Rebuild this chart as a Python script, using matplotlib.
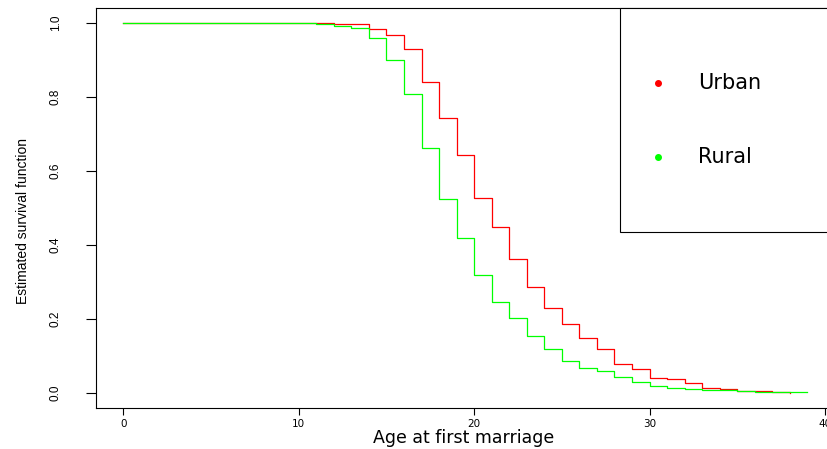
import matplotlib
matplotlib.use("Agg")
import matplotlib.pyplot as plt
from matplotlib.patches import Rectangle

# ---- data ----
urban_age = [0, 1, 2, 3, 4, 5, 6, 7, 8, 9, 10, 11, 12, 13, 14, 15, 16, 17, 18, 19,
             20, 21, 22, 23, 24, 25, 26, 27, 28, 29, 30, 31, 32, 33, 34, 35, 36, 37, 38]
urban_surv = [1.0, 1.0, 1.0, 1.0, 1.0, 1.0, 1.0, 1.0, 1.0, 1.0, 1.0, 0.999, 0.998, 0.996,
              0.984, 0.968, 0.930, 0.841, 0.744, 0.643, 0.526, 0.448, 0.362, 0.286, 0.229,
              0.187, 0.149, 0.120, 0.078, 0.064, 0.042, 0.037, 0.028, 0.014, 0.012, 0.006,
              0.005, 0.002, 0.001]

rural_age = [0, 1, 2, 3, 4, 5, 6, 7, 8, 9, 10, 11, 12, 13, 14, 15, 16, 17, 18, 19,
             20, 21, 22, 23, 24, 25, 26, 27, 28, 29, 30, 31, 32, 33, 34, 35, 36, 37, 38, 39]
rural_surv = [1.0, 1.0, 1.0, 1.0, 1.0, 1.0, 1.0, 1.0, 1.0, 1.0, 1.0, 0.997, 0.992, 0.986,
              0.960, 0.900, 0.808, 0.663, 0.524, 0.418, 0.318, 0.246, 0.204, 0.154, 0.119,
              0.086, 0.068, 0.059, 0.043, 0.029, 0.019, 0.014, 0.011, 0.008, 0.008, 0.006,
              0.004, 0.002, 0.002, 0.002]

series_labels = ["Urban", "Rural"]
series_colors = ["#FF0000", "#00FF00"]

x_ticks = [0, 10, 20, 30, 40]
y_ticks = [0.0, 0.2, 0.4, 0.6, 0.8, 1.0]

# ---- figure ----
W, H = 828, 449
fig = plt.figure(figsize=(W / 100, H / 100), dpi=100)
ax_left, ax_right, ax_top, ax_bottom = 96, 834.8, 8, 408
ax = fig.add_axes([ax_left / W, 1 - ax_bottom / H,
                   (ax_right - ax_left) / W, (ax_bottom - ax_top) / H])

ax.step(urban_age, urban_surv, where="post", color=series_colors[0], lw=0.9)
ax.step(rural_age, rural_surv, where="post", color=series_colors[1], lw=0.9)

ax.set_xlim(-1.56, 40.56)
ax.set_ylim(-0.04, 1.04)

for s in ax.spines.values():
    s.set_linewidth(0.8)
    s.set_color("black")

ax.set_xticks(x_ticks)
ax.set_xticklabels([str(t) for t in x_ticks], fontsize=7.5, family="DejaVu Sans")
ax.tick_params(axis="x", length=5, width=0.8, pad=3)

narrow = ["Liberation Sans", "DejaVu Sans"]
ax.set_yticks(y_ticks)
ax.set_yticklabels([f"{t:.1f}" for t in y_ticks], rotation=90, va="center",
                   fontsize=8.5, family=narrow)
ax.tick_params(axis="y", length=7.5, width=0.8, pad=17)

fig.text(464 / W, 1 - 438 / H, "Age at first marriage", ha="center", va="center",
         fontsize=12.5, family="DejaVu Sans")
fig.text(23 / W, 1 - 221 / H, "Estimated survival function", rotation=90,
         ha="center", va="center", fontsize=10, family=narrow)

# ---- legend box (R-style, partly outside the figure) ----
def fx(px):
    return (px - ax_left) / (ax_right - ax_left)

def fy(py):
    return (ax_bottom - py) / (ax_bottom - ax_top)

ax.add_patch(Rectangle((fx(620), fy(232)), 0.5, fy(8) - fy(232),
                       transform=ax.transAxes, fill=True, facecolor="white",
                       edgecolor="black", lw=0.8, clip_on=False, zorder=5))
for lab, col, py in zip(series_labels, series_colors, [83, 157]):
    ax.plot([fx(658)], [fy(py)], "o", color=col, markersize=4, transform=ax.transAxes,
            clip_on=False, zorder=6)
    ax.text(fx(698), fy(py), lab, transform=ax.transAxes, va="center", ha="left",
            fontsize=15, family="DejaVu Sans", zorder=6)

fig.savefig("out.png", dpi=100)
